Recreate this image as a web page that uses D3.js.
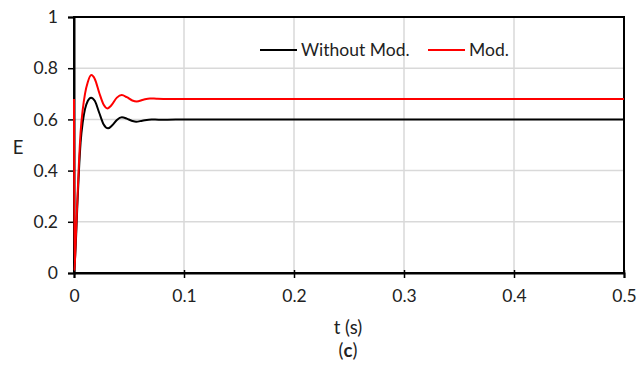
<!DOCTYPE html>
<html><head><meta charset="utf-8">
<script src="https://cdn.jsdelivr.net/npm/d3@7"></script>
<style>body{margin:0;background:#fff}svg{display:block}text{font-family:Lato,"Open Sans",sans-serif;fill:#222}</style>
</head><body>
<script>
const tBlack = [0,0.0015,0.003,0.0045,0.006,0.008,0.010,0.0125,0.0155,0.019,0.023,0.027,0.031,0.035,0.039,0.0435,0.048,0.053,0.0565,0.062,0.0705,0.077,0.085,0.1,0.2,0.3,0.4,0.5];
const eBlack = [0,0.10,0.26,0.40,0.51,0.59,0.64,0.672,0.685,0.672,0.625,0.580,0.565,0.578,0.598,0.608,0.603,0.594,0.591,0.595,0.600,0.599,0.599,0.6,0.6,0.6,0.6,0.6];
const tRed = [0,0.0004,0.0015,0.003,0.0045,0.006,0.008,0.010,0.0125,0.0157,0.019,0.023,0.027,0.0303,0.034,0.039,0.0434,0.048,0.053,0.057,0.063,0.069,0.075,0.085,0.1,0.2,0.3,0.4,0.5];
const eRed = [0.68,0.01,0.12,0.28,0.43,0.55,0.64,0.70,0.745,0.773,0.757,0.703,0.657,0.643,0.655,0.685,0.695,0.687,0.674,0.670,0.677,0.682,0.681,0.680,0.680,0.680,0.680,0.680,0.680];
const xTicks = [0,0.1,0.2,0.3,0.4,0.5];
const yTicks = [0,0.2,0.4,0.6,0.8,1];
const seriesNames = ["Without Mod.","Mod."];
const seriesColors = ["#000000","#ff0000"];

const W=638,H=367;
const svg=d3.select("body").append("svg").attr("width",W).attr("height",H);
const x=d3.scaleLinear().domain([0,0.5]).range([74,624]);
const y=d3.scaleLinear().domain([0,1]).range([273,17]);
const fmt=d=>d===0?"0":(d===1?"1":String(d));

// gridlines
svg.append("g").selectAll("line.h").data(yTicks.slice(1,-1)).join("line")
  .attr("x1",x(0)).attr("x2",x(0.5)).attr("y1",d=>y(d)).attr("y2",d=>y(d))
  .attr("stroke","#d9d9d9").attr("stroke-width",1.5);
svg.append("g").selectAll("line.v").data(xTicks.slice(1,-1)).join("line")
  .attr("y1",y(0)).attr("y2",y(1)).attr("x1",d=>x(d)).attr("x2",d=>x(d))
  .attr("stroke","#d9d9d9").attr("stroke-width",1.5);

// border box
svg.append("rect").attr("x",x(0)).attr("y",y(1)).attr("width",x(0.5)-x(0)).attr("height",y(0)-y(1))
  .attr("fill","none").attr("stroke","#000").attr("stroke-width",2);

// axes
const xAxis=svg.append("g").attr("transform",`translate(0,${y(0)})`)
  .call(d3.axisBottom(x).tickValues(xTicks).tickFormat(fmt).tickSize(5).tickPadding(12));
xAxis.select(".domain").attr("stroke-width",2);
xAxis.selectAll(".tick line").attr("y1",-3).attr("stroke-width",1.5);
xAxis.selectAll("text").attr("font-size",17.5).attr("fill","#333").style("font-family","Lato,sans-serif");

const yAxis=svg.append("g").attr("transform",`translate(${x(0)},0)`)
  .call(d3.axisLeft(y).tickValues(yTicks).tickFormat(fmt).tickSize(6).tickPadding(10));
yAxis.select(".domain").attr("stroke-width",2);
yAxis.selectAll(".tick line").attr("stroke-width",1.5);
yAxis.selectAll("text").attr("font-size",17.5).attr("fill","#333").style("font-family","Lato,sans-serif");

// lines
const line=d3.line().x(d=>x(d[0])).y(d=>y(d[1])).curve(d3.curveMonotoneX);
const dataBlack=tBlack.map((t,i)=>[t,eBlack[i]]);
const dataRed=tRed.map((t,i)=>[t,eRed[i]]);
svg.append("path").datum(dataBlack).attr("d",line).attr("fill","none").attr("stroke",seriesColors[0]).attr("stroke-width",2);
svg.append("path").datum(dataRed).attr("d",line).attr("fill","none").attr("stroke",seriesColors[1]).attr("stroke-width",2);

// legend
const leg=[{x1:260,x2:297,tx:301},{x1:428,x2:465,tx:469}];
leg.forEach((l,i)=>{
  svg.append("line").attr("x1",l.x1).attr("x2",l.x2).attr("y1",50).attr("y2",50).attr("stroke",seriesColors[i]).attr("stroke-width",2);
  svg.append("text").attr("x",l.tx).attr("y",56).attr("font-size",17.5).text(seriesNames[i]);
});

// axis titles
svg.append("text").attr("x",18).attr("y",154).attr("text-anchor","middle").attr("font-size",18.5).text("E");
svg.append("text").attr("x",348).attr("y",334).attr("text-anchor","middle").attr("font-size",18.5).text("t (s)");
const c=svg.append("text").attr("x",348).attr("y",357).attr("text-anchor","middle").attr("font-size",18.5);
c.append("tspan").text("(");
c.append("tspan").attr("font-weight","bold").text("c");
c.append("tspan").text(")");
</script>
</body></html>
